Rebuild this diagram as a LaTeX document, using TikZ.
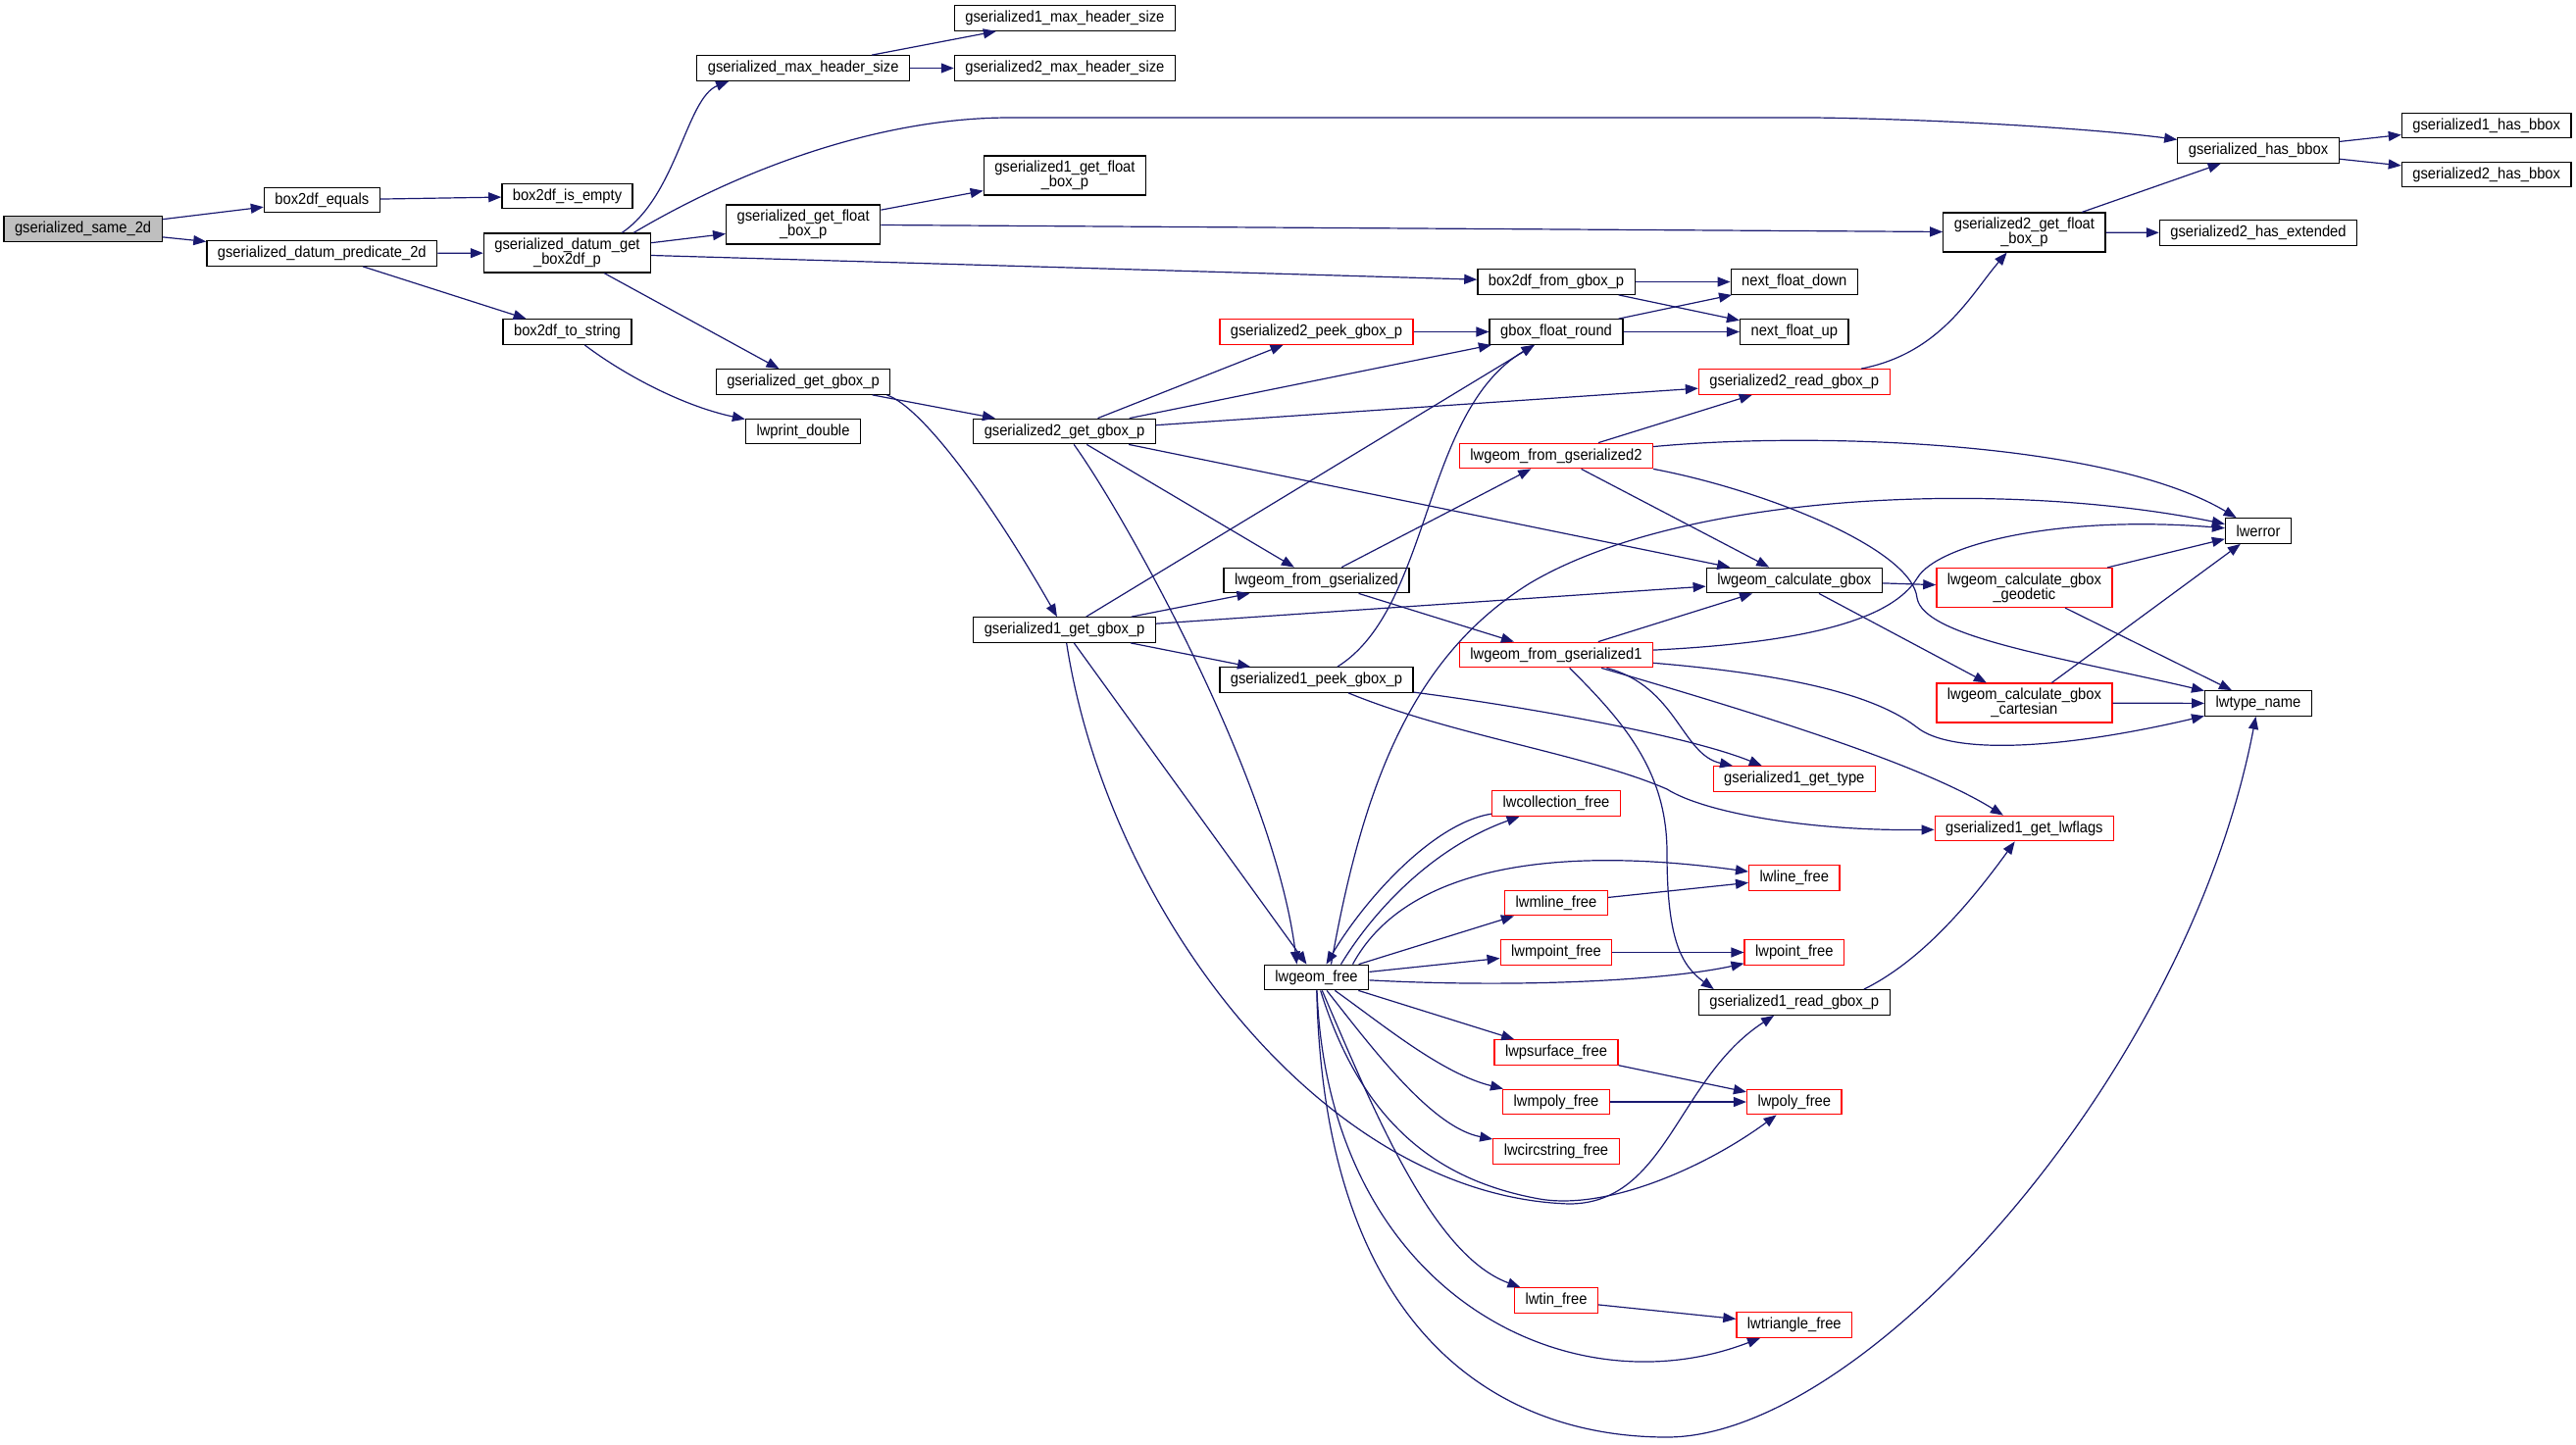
\documentclass[tikz,border=0pt]{standalone}
\usepackage{fontspec}
\setmainfont[FakeStretch=0.92]{Liberation Sans}
\usetikzlibrary{arrows.meta}
\definecolor{edgeblue}{HTML}{191970}
\definecolor{rootgray}{HTML}{BFBFBF}
\definecolor{linkred}{HTML}{FF0000}
\begin{document}
\begin{tikzpicture}[x=1pt,y=-1pt,>={Triangle[length=13pt,width=10pt]},
    fn/.style={draw=black,line width=1.3pt,fill=white,inner xsep=11pt,inner ysep=5pt,
        minimum height=25.5pt,align=center,font=\fontsize{16pt}{15pt}\selectfont},
    fnred/.style={fn,draw=linkred},
    fnroot/.style={fn,fill=rootgray},
    call/.style={->,edgeblue,line width=1.2pt}]
    \useasboundingbox (0,0) rectangle (2627,1473);
    % callers on the left
    \node[fnroot] (same2d) at (84.6,233.5) {gserialized\_same\_2d};
    \node[fn] (eq) at (328.3,204) {box2df\_equals};
    \node[fn] (pred) at (328.3,258.5) {gserialized\_datum\_predicate\_2d};
    \node[fn] (isempty) at (578.5,200) {box2df\_is\_empty};
    \node[fn] (getbox2df) at (578.5,258) {gserialized\_datum\_get\\\_box2df\_p};
    \node[fn] (tostring) at (578.5,338.5) {box2df\_to\_string};
    \node[fn] (maxhdr) at (819.2,69.5) {gserialized\_max\_header\_size};
    \node[fn] (getfloat) at (819.2,229) {gserialized\_get\_float\\\_box\_p};
    \node[fn] (getgbox) at (819,389.5) {gserialized\_get\_gbox\_p};
    \node[fn] (lwprint) at (819,440) {lwprint\_double};
    \node[fn] (maxhdr1) at (1085.9,18.5) {gserialized1\_max\_header\_size};
    \node[fn] (maxhdr2) at (1085.9,69.5) {gserialized2\_max\_header\_size};
    \node[fn] (getfloat1) at (1085.9,179) {gserialized1\_get\_float\\\_box\_p};
    \node[fn] (getgbox2) at (1085.6,440) {gserialized2\_get\_gbox\_p};
    \node[fn] (getgbox1) at (1085.6,642.5) {gserialized1\_get\_gbox\_p};
    % middle columns
    \node[fnred] (peek2) at (1342.5,338.5) {gserialized2\_peek\_gbox\_p};
    \node[fn] (fromser) at (1342.5,592) {lwgeom\_from\_gserialized};
    \node[fn] (peek1) at (1342.5,693.5) {gserialized1\_peek\_gbox\_p};
    \node[fn] (geomfree) at (1342.5,997) {lwgeom\_free};
    \node[fn] (fromgbox) at (1587,287.5) {box2df\_from\_gbox\_p};
    \node[fn] (floatround) at (1587,338.5) {gbox\_float\_round};
    \node[fnred] (fromser2) at (1587,465) {lwgeom\_from\_gserialized2};
    \node[fnred] (fromser1) at (1587,668) {lwgeom\_from\_gserialized1};
    \node[fnred] (collfree) at (1587,819.5) {lwcollection\_free};
    \node[fnred] (mlinefree) at (1587,921) {lwmline\_free};
    \node[fnred] (mpointfree) at (1587,971.5) {lwmpoint\_free};
    \node[fnred] (psurffree) at (1587,1073.5) {lwpsurface\_free};
    \node[fnred] (mpolyfree) at (1587,1124) {lwmpoly\_free};
    \node[fnred] (circfree) at (1587,1174.5) {lwcircstring\_free};
    \node[fnred] (tinfree) at (1587,1326.5) {lwtin\_free};
    \node[fn] (floatdown) at (1829.8,287.5) {next\_float\_down};
    \node[fn] (floatup) at (1829.8,338.5) {next\_float\_up};
    \node[fnred] (read2) at (1829.8,389.5) {gserialized2\_read\_gbox\_p};
    \node[fn] (calcgbox) at (1829.8,592) {lwgeom\_calculate\_gbox};
    \node[fnred] (gettype) at (1829.8,794.5) {gserialized1\_get\_type};
    \node[fnred] (linefree) at (1829.8,895.5) {lwline\_free};
    \node[fnred] (pointfree) at (1829.8,971.5) {lwpoint\_free};
    \node[fn] (read1) at (1829.8,1022.5) {gserialized1\_read\_gbox\_p};
    \node[fnred] (polyfree) at (1829.8,1124) {lwpoly\_free};
    \node[fnred] (trifree) at (1829.8,1351.5) {lwtriangle\_free};
    % right columns
    \node[fn] (getfloat2) at (2064.4,237) {gserialized2\_get\_float\\\_box\_p};
    \node[fnred] (geodetic) at (2064.4,599.5) {lwgeom\_calculate\_gbox\\\_geodetic};
    \node[fnred] (cartesian) at (2064.4,717) {lwgeom\_calculate\_gbox\\\_cartesian};
    \node[fnred] (lwflags) at (2064.4,845) {gserialized1\_get\_lwflags};
    \node[fn] (hasbbox) at (2303,153.5) {gserialized\_has\_bbox};
    \node[fn] (hasext) at (2303,237.5) {gserialized2\_has\_extended};
    \node[fn] (lwerror) at (2303,541.5) {lwerror};
    \node[fn] (typename) at (2303,717.5) {lwtype\_name};
    \node[fn] (hasbbox1) at (2535.7,128) {gserialized1\_has\_bbox};
    \node[fn] (hasbbox2) at (2535.7,178) {gserialized2\_has\_bbox};
% straight calls
\foreach \a/\b in {same2d/eq,same2d/pred,eq/isempty,pred/getbox2df,pred/tostring,
    getbox2df/getfloat,getbox2df/fromgbox,getbox2df/getgbox,maxhdr/maxhdr1,maxhdr/maxhdr2,
    getfloat/getfloat1,getfloat/getfloat2,hasbbox/hasbbox1,hasbbox/hasbbox2,
    getfloat2/hasbbox,getfloat2/hasext,fromgbox/floatdown,fromgbox/floatup,
    floatround/floatdown,floatround/floatup,peek2/floatround,getgbox/getgbox2,
    getgbox2/peek2,getgbox2/floatround,getgbox2/read2,getgbox2/calcgbox,getgbox2/fromser,
    fromser2/read2,fromser2/calcgbox,getgbox1/floatround,getgbox1/fromser,getgbox1/calcgbox,
    getgbox1/peek1,fromser/fromser2,fromser/fromser1,fromser1/calcgbox,calcgbox/geodetic,
    calcgbox/cartesian,geodetic/lwerror,geodetic/typename,cartesian/lwerror,cartesian/typename,
    geomfree/mlinefree,geomfree/mpointfree,geomfree/psurffree,mlinefree/linefree,
    mpointfree/pointfree,psurffree/polyfree,mpolyfree/polyfree,tinfree/trifree}
{
    \draw[call] (\a)--(\b);
}
% curved calls
    \draw[call] (tostring) .. controls (640,385) and (700,415) .. (lwprint);
    \draw[call] ([xshift=-30pt]getbox2df.north east) .. controls (690,200) and (700,100) .. ([xshift=33pt]maxhdr.south west);
    \draw[call] ([xshift=-18pt]getbox2df.north east) .. controls (760,170) and (900,120) .. (1030,120) -- (1850,120) .. controls (2000,122) and (2150,133) .. (hasbbox);
    \draw[call] (read2) .. controls (1980,360) and (2010,300) .. (getfloat2);
    \draw[call] ([xshift=-4pt]getgbox.south east) .. controls (940,415) and (1010,510) .. (getgbox1);
    \draw[call] (getgbox2) .. controls (1150,530) and (1300,800) .. ([xshift=-20pt]geomfree.north);
    \draw[call] (getgbox1) -- ([xshift=-10pt]geomfree.north);
    \draw[call] (getgbox1) .. controls (1130,930) and (1350,1220) .. (1600,1228) .. controls (1700,1228) and (1710,1100) .. (read1);
    \draw[call] (fromser2) .. controls (1850,440) and (2150,450) .. (lwerror);
    \draw[call] (fromser2.south east) .. controls (1800,500) and (1950,560) .. (1955,610) .. controls (1962,650) and (2100,670) .. (typename);
    \draw[call] (peek1) .. controls (1460,620) and (1450,420) .. (floatround);
    \draw[call] (peek1) .. controls (1550,720) and (1720,750) .. (gettype);
    \draw[call] (peek1) .. controls (1480,750) and (1620,770) .. (1700,805) .. controls (1740,830) and (1850,848) .. (lwflags);
    \draw[call] (fromser1) .. controls (1850,655) and (1930,630) .. (1955,590) .. controls (1975,555) and (2100,525) .. (lwerror);
    \draw[call] (fromser1) .. controls (1710,700) and (1715,770) .. (gettype);
    \draw[call] (fromser1) .. controls (1800,730) and (1960,780) .. (lwflags);
    \draw[call] (fromser1) .. controls (1850,690) and (1920,715) .. (1955,742) .. controls (1990,770) and (2100,765) .. (typename);
    \draw[call] (fromser1) .. controls (1660,740) and (1700,790) .. (1700,870) .. controls (1700,960) and (1715,985) .. ([xshift=16pt]read1.north west);
    \draw[call] ([xshift=-27pt]read1.north east) .. controls (1960,980) and (2010,920) .. (lwflags);
    \draw[call] ([xshift=15pt]geomfree.north) .. controls (1390,800) and (1440,670) .. (1560,595) .. controls (1720,500) and (2050,490) .. (lwerror);
    \draw[call] ([xshift=25pt]geomfree.north) .. controls (1400,930) and (1460,865) .. (collfree);
    \draw[call] (collfree) .. controls (1460,840) and (1390,920) .. ([xshift=10pt]geomfree.north);
    \draw[call] ([xshift=37pt]geomfree.north) .. controls (1430,890) and (1570,860) .. (linefree);
    \draw[call] (geomfree) .. controls (1550,1008) and (1700,1000) .. (pointfree);
    \draw[call] (geomfree) .. controls (1410,1045) and (1470,1095) .. (mpolyfree);
    \draw[call] (geomfree) .. controls (1400,1070) and (1460,1150) .. (circfree);
    \draw[call] (geomfree) .. controls (1390,1150) and (1470,1205) .. (1570,1223) .. controls (1640,1235) and (1740,1190) .. (polyfree);
    \draw[call] (geomfree) .. controls (1400,1130) and (1460,1280) .. (tinfree);
    \draw[call] (geomfree) .. controls (1355,1320) and (1600,1440) .. (trifree);
    \draw[call] (geomfree) .. controls (1350,1350) and (1520,1466) .. (1700,1466) .. controls (1900,1466) and (2230,1100) .. (typename);
\end{tikzpicture}
\end{document}
